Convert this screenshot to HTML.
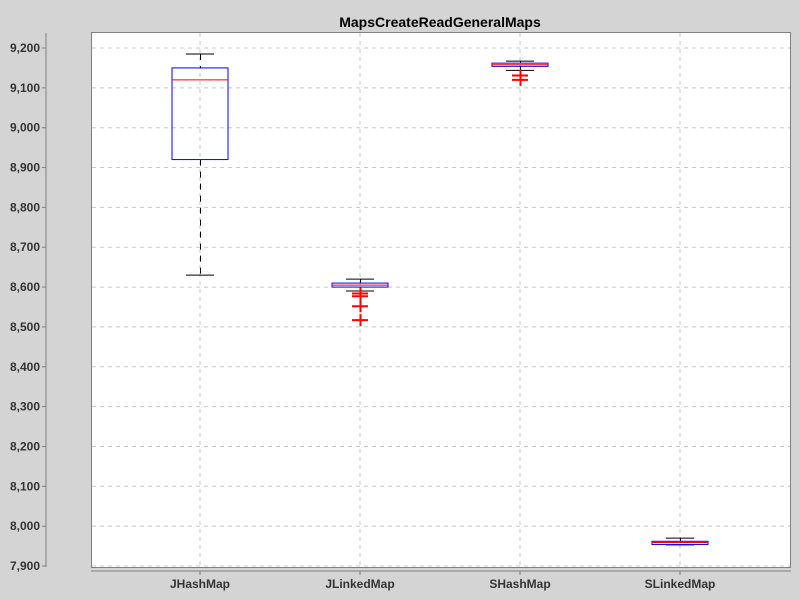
<!DOCTYPE html>
<html><head><meta charset="utf-8"><style>
body{margin:0;background:#d4d4d4;}
svg{display:block;font-family:"Liberation Sans",sans-serif;}
</style></head><body>
<svg id="c" width="800" height="600">
<rect x="0" y="0" width="800" height="600" fill="#d4d4d4"/>
<text x="440" y="27" text-anchor="middle" font-size="14" font-weight="bold" fill="#000">MapsCreateReadGeneralMaps</text>
<rect x="91.5" y="32.5" width="699" height="535" fill="#fff" stroke="#808080"/>
<g id="grid"></g>
<g id="marks"></g>
<g id="axes"></g>
</svg>
<script>
const categories=["JHashMap","JLinkedMap","SHashMap","SLinkedMap"];
const whiskerHigh=[9185,8620,9167,7970];
const q3=[9150,8610,9162,7962];
const medians=[9120,8605,9158,7959];
const q1=[8920,8600,9154,7954];
const whiskerLow=[8630,8590,9144,7953];
const outliers=[[],[8584,8577,8552,8517],[9131,9120],[]];
const yTicks=[7900,8000,8100,8200,8300,8400,8500,8600,8700,8800,8900,9000,9100,9200];
const NS="http://www.w3.org/2000/svg";
function y(v){return 48+(9200-v)*(518/1300);}
function x(i){return 200+i*160;}
function el(t,a,p){const e=document.createElementNS(NS,t);for(const k in a)e.setAttribute(k,a[k]);p.appendChild(e);return e;}
const grid=document.getElementById('grid'),marks=document.getElementById('marks'),axes=document.getElementById('axes');
yTicks.forEach(v=>{
 const g=el('line',{x1:92,x2:790,y1:y(v),y2:y(v),stroke:'#c8c8c8','stroke-dasharray':'4,4'},grid);
 
 
 const t=el('line',{x1:42,x2:46,y1:y(v),y2:y(v),stroke:'#808080'},axes);
 
 
 const l=el('text',{x:40,y:y(v)+4,'text-anchor':'end','font-size':'12','font-weight':'bold',fill:'#333'},axes);
 l.textContent=v.toLocaleString('en-US');
 
 
});
categories.forEach((c,i)=>{
 const g=el('line',{x1:x(i),x2:x(i),y1:33,y2:567,stroke:'#c8c8c8','stroke-dasharray':'4,4'},grid);
 
 
 const t=el('line',{x1:x(i),x2:x(i),y1:571,y2:575,stroke:'#808080'},axes);
 
 
 const l=el('text',{x:x(i),y:588,'text-anchor':'middle','font-size':'12','font-weight':'bold',fill:'#333'},axes);
 l.textContent=c;
 
 
 const g2=el('g',{},marks);
 
 
 const cx=x(i)+0.5;
 el('line',{x1:cx,x2:cx,y1:y(whiskerHigh[i]),y2:y(q3[i]),stroke:'#000','stroke-dasharray':'6,6'},g2);
 el('line',{x1:cx,x2:cx,y1:y(q1[i]),y2:y(whiskerLow[i]),stroke:'#000','stroke-dasharray':'6,6'},g2);
 el('line',{x1:x(i)-14,x2:x(i)+14,y1:y(whiskerHigh[i]),y2:y(whiskerHigh[i]),stroke:'#000'},g2);
 el('line',{x1:x(i)-14,x2:x(i)+14,y1:y(whiskerLow[i]),y2:y(whiskerLow[i]),stroke:'#000'},g2);
 el('rect',{x:x(i)-28,y:y(q3[i]),width:56,height:Math.max(1,y(q1[i])-y(q3[i])),fill:'none',stroke:'#0000ff'},g2);
 el('line',{x1:x(i)-28,x2:x(i)+28,y1:y(medians[i]),y2:y(medians[i]),stroke:'#ff0000'},g2);
 outliers[i].forEach(o=>{
  const p=el('path',{d:`M${x(i)-8},${y(o)}H${x(i)+8}M${cx},${y(o)-6}V${y(o)+6}`,stroke:'#ff0000','stroke-width':2},g2);
  
  
 });
});
el('line',{x1:46,x2:46,y1:33,y2:567,stroke:'#808080'},axes);
el('line',{x1:91,x2:791,y1:571,y2:571,stroke:'#808080'},axes);
</script>
</body></html>
